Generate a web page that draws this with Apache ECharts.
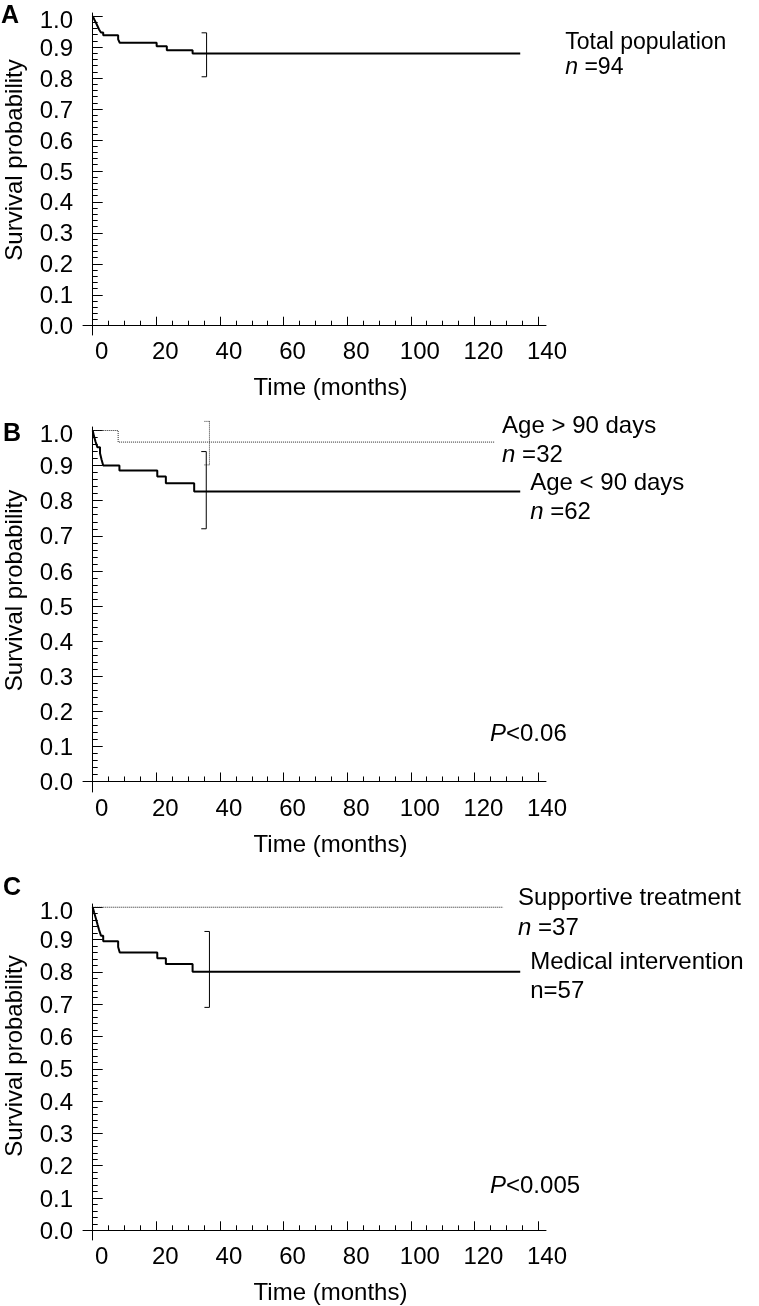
<!DOCTYPE html>
<html><head><meta charset="utf-8">
<script src="https://cdn.jsdelivr.net/npm/echarts@6/dist/echarts.min.js"></script>
<style>html,body{margin:0;padding:0;background:#fff}#c{width:759px;height:1306px}</style>
</head><body><div id="c"></div>
<script>
// ---------- data ----------
const xTickValues = [0, 20, 40, 60, 80, 100, 120, 140];
const xMinorValues = [0,5,10,15,20,25,30,35,40,45,50,55,60,65,70,75,80,85,90,95,100,105,110,115,120,125,130,135,140];
const yTickValues = [0,0.1,0.2,0.3,0.4,0.5,0.6,0.7,0.8,0.9,1.0];
const yMinorValues = [0,0.02,0.04,0.06,0.08,0.1,0.12,0.14,0.16,0.18,0.2,0.22,0.24,0.26,0.28,0.3,0.32,0.34,0.36,0.38,0.4,0.42,0.44,0.46,0.48,0.5,0.52,0.54,0.56,0.58,0.6,0.62,0.64,0.66,0.68,0.7,0.72,0.74,0.76,0.78,0.8,0.82,0.84,0.86,0.88,0.9,0.92,0.94,0.96,0.98,1.0];

// Panel A: total population
const timeA = [0, 0.5, 1.0, 1.5, 2.0, 2.6, 3.3, 8.0, 8.5, 20.1, 23.3, 31.4, 134.4];
const survA = [1.0, 0.989, 0.979, 0.968, 0.957, 0.947, 0.938, 0.925, 0.914, 0.903, 0.890, 0.879, 0.879];
const ciA = [35.8, 0.804, 0.946];

// Panel B: age groups
const timeBold = [0, 8.0, 126.5];
const survBold = [1.0, 0.967, 0.967];
const ciBold = [36.7, 0.902, 1.026];
const timeByoung = [0, 0.4, 0.9, 1.5, 2.3, 2.8, 3.3, 8.4, 20.3, 23.0, 31.9, 134.4];
const survByoung = [1.0, 0.984, 0.968, 0.952, 0.935, 0.917, 0.900, 0.886, 0.869, 0.850, 0.826, 0.826];
const ciByoung = [35.7, 0.72, 0.94];

// Panel C: treatment
const timeCsupp = [0, 129.0];
const survCsupp = [1.0, 1.0];
const timeCmed = [0, 0.5, 1.0, 1.5, 2.0, 2.6, 3.3, 8.0, 8.5, 20.3, 23.0, 31.4, 134.4];
const survCmed = [1.0, 0.982, 0.965, 0.947, 0.930, 0.912, 0.895, 0.877, 0.860, 0.842, 0.824, 0.800, 0.800];
const ciCmed = [36.7, 0.69, 0.925];

// ---------- helpers ----------
const FONT = '"Liberation Sans", Arial, Helvetica, sans-serif';
const zip = (t, s) => t.map((v, i) => [v, s[i]]);

const grids = [
  { left: 83, top: 13, width: 463, height: 322, outerBoundsMode: 'none', containLabel: false },
  { left: 83, top: 427, width: 463, height: 365, outerBoundsMode: 'none', containLabel: false },
  { left: 83, top: 904, width: 463, height: 336, outerBoundsMode: 'none', containLabel: false }
];
const yNameShift = [28, 38, 32];

const xAxes = [], yAxes = [];
grids.forEach((g, gi) => {
  xAxes.push({
    type: 'value', gridIndex: gi, min: -3.05, max: 142.5, position: 'bottom',
    axisLine: { show: true, lineStyle: { color: '#000', width: 1 } },
    axisTick: { show: true, inside: true, length: 9, customValues: xTickValues, lineStyle: { color: '#000', width: 1 } },
    axisLabel: { show: true, customValues: xTickValues, fontSize: 24, color: '#000', fontFamily: FONT, margin: 5, padding: [0, 0, 0, 18] },
    splitLine: { show: false },
    name: 'Time (months)', nameLocation: 'middle', nameGap: 41,
    nameTextStyle: { fontSize: 24, color: '#000', fontFamily: FONT, padding: [0, 0, 0, 32] }
  });
  xAxes.push({
    type: 'value', gridIndex: gi, min: -3.05, max: 142.5, position: 'bottom',
    axisLine: { show: false },
    axisTick: { show: true, inside: true, length: 5, customValues: xMinorValues, lineStyle: { color: '#000', width: 1 } },
    axisLabel: { show: false }, splitLine: { show: false }
  });
  yAxes.push({
    type: 'value', gridIndex: gi, min: -0.03, max: 1.01, position: 'left',
    axisLine: { show: true, lineStyle: { color: '#000', width: 1 } },
    axisTick: { show: true, inside: true, length: 10, customValues: yTickValues, lineStyle: { color: '#000', width: 1 } },
    axisLabel: {
      show: true, customValues: yTickValues,
      formatter: v => (Math.abs(v - 1) < 1e-9 ? '{top|1.0}' : v.toFixed(1)),
      fontSize: 24, color: '#000', fontFamily: FONT, margin: 10, padding: [4, 0, 0, 0],
      rich: { top: { fontSize: 24, color: '#000', fontFamily: FONT, padding: [6, 0, 0, 0] } }
    },
    splitLine: { show: false },
    name: 'Survival probability', nameLocation: 'middle', nameGap: 56,
    nameTextStyle: { fontSize: 24, color: '#000', fontFamily: FONT, padding: [0, 0, 0, yNameShift[gi]] }
  });
  yAxes.push({
    type: 'value', gridIndex: gi, min: -0.03, max: 1.01, position: 'left',
    axisLine: { show: false },
    axisTick: { show: true, inside: true, length: 5, customValues: yMinorValues, lineStyle: { color: '#000', width: 1 } },
    axisLabel: { show: false }, splitLine: { show: false }
  });
});

function rich(fs, lh) {
  return {
    t: { fontSize: fs, color: '#000', fontFamily: FONT, lineHeight: lh },
    i: { fontSize: fs, color: '#000', fontFamily: FONT, fontStyle: 'italic', lineHeight: lh }
  };
}

function kmSeries(gi, t, s, opts) {
  return {
    type: 'line', xAxisIndex: gi * 2, yAxisIndex: gi * 2, data: zip(t, s), step: 'end',
    showSymbol: false, symbol: 'none', silent: true,
    lineStyle: { color: opts.color || '#000', width: opts.width || 2, type: opts.dash || 'solid' },
    endLabel: {
      show: true, formatter: opts.label, distance: opts.distance, offset: opts.offset || [0, 0],
      align: 'left', rich: rich(opts.fs, opts.lh)
    }
  };
}

function ciSeries(gi, ci, dashed) {
  return {
    type: 'custom', xAxisIndex: gi * 2, yAxisIndex: gi * 2, silent: true, clip: false,
    data: [ci], encode: { x: 0, y: [1, 2] },
    renderItem: function (params, api) {
      const x = api.value(0), lo = api.value(1), hi = api.value(2);
      const pT = api.coord([x, hi]), pB = api.coord([x, lo]);
      const st = { stroke: dashed ? '#333' : '#000', lineWidth: 1, lineDash: dashed ? [1, 1] : null, fill: null };
      return {
        type: 'group', children: [
          { type: 'line', shape: { x1: pT[0], y1: pT[1], x2: pB[0], y2: pB[1] }, style: st },
          { type: 'line', shape: { x1: pT[0] - 5, y1: pT[1], x2: pT[0], y2: pT[1] }, style: st },
          { type: 'line', shape: { x1: pB[0] - 5, y1: pB[1], x2: pB[0], y2: pB[1] }, style: st }
        ]
      };
    }
  };
}

const series = [
  kmSeries(0, timeA, survA, { label: '{t|Total population}\n{i|n}{t| =94}', distance: 45, offset: [0, 2], fs: 23, lh: 25 }),
  ciSeries(0, ciA, false),
  kmSeries(1, timeBold, survBold, { label: '{t|Age > 90 days}\n{i|n}{t| =32}', distance: 7, offset: [0, -1], dash: [1, 1], width: 1, color: '#222', fs: 24, lh: 29 }),
  ciSeries(1, ciBold, true),
  kmSeries(1, timeByoung, survByoung, { label: '{t|Age < 90 days}\n{i|n}{t| =62}', distance: 10, offset: [0, 6], fs: 24, lh: 29 }),
  ciSeries(1, ciByoung, false),
  kmSeries(2, timeCsupp, survCsupp, { label: '{t|Supportive treatment}\n{i|n}{t| =37}', distance: 15, offset: [0, 6], dash: [1, 1], width: 1, color: '#222', fs: 24, lh: 30 }),
  kmSeries(2, timeCmed, survCmed, { label: '{t|Medical intervention}\n{t|n=57}', distance: 10, offset: [0, 5], fs: 24, lh: 29 }),
  ciSeries(2, ciCmed, false)
];

const pRich = rich(24, 26);
const chart = echarts.init(document.getElementById('c'), null, { renderer: 'canvas' });
chart.setOption({
  animation: false,
  backgroundColor: '#fff',
  grid: grids,
  xAxis: xAxes,
  yAxis: yAxes,
  series: series,
  graphic: [
    { type: 'text', left: 1, top: 4, style: { text: 'A', fontSize: 25, fontWeight: 'bold', fontFamily: FONT, fill: '#000' } },
    { type: 'text', left: 3, top: 422, style: { text: 'B', fontSize: 25, fontWeight: 'bold', fontFamily: FONT, fill: '#000' } },
    { type: 'text', left: 3, top: 876, style: { text: 'C', fontSize: 25, fontWeight: 'bold', fontFamily: FONT, fill: '#000' } },
    { type: 'text', left: 490, top: 722, style: { rich: pRich, text: '{i|P}{t|<0.06}' } },
    { type: 'text', left: 490, top: 1174, style: { rich: pRich, text: '{i|P}{t|<0.005}' } }
  ]
});
</script>
</body></html>
